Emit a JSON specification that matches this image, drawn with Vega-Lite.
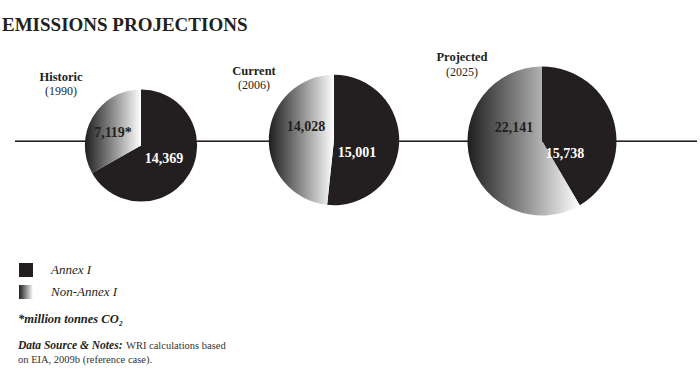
{
  "$schema": "https://vega.github.io/schema/vega-lite/v6.json",
  "width": 700,
  "height": 340,
  "autosize": {"type": "none"},
  "padding": {"left": 0, "top": 40, "right": 0, "bottom": 0},
  "background": "white",
  "title": {
    "text": "EMISSIONS PROJECTIONS",
    "anchor": "start",
    "frame": "group",
    "offset": -10,
    "baseline": "alphabetic",
    "dx": 2,
    "font": "Liberation Serif",
    "fontSize": 19,
    "fontWeight": "bold",
    "color": "#231f20"
  },
  "datasets": {
    "wedges": [
      {"period": "Historic", "year": 1990, "group": "Annex I", "value": 14369, "label": "14,369"},
      {"period": "Historic", "year": 1990, "group": "Non-Annex I", "value": 7119, "label": "7,119*"},
      {"period": "Current", "year": 2006, "group": "Annex I", "value": 15001, "label": "15,001"},
      {"period": "Current", "year": 2006, "group": "Non-Annex I", "value": 14028, "label": "14,028"},
      {"period": "Projected", "year": 2025, "group": "Annex I", "value": 15738, "label": "15,738"},
      {"period": "Projected", "year": 2025, "group": "Non-Annex I", "value": 22141, "label": "22,141"}
    ],
    "periods": [
      {"period": "Historic", "year": 1990, "yearLabel": "(1990)"},
      {"period": "Current", "year": 2006, "yearLabel": "(2006)"},
      {"period": "Projected", "year": 2025, "yearLabel": "(2025)"}
    ],
    "notes": [
      {"kind": "unit", "note": "*million tonnes CO₂"},
      {"kind": "sourceHead", "note": "Data Source & Notes:"},
      {"kind": "source1", "note": "WRI calculations based"},
      {"kind": "source2", "note": "on EIA, 2009b (reference case)."}
    ]
  },
  "layer": [
    {
      "data": {"name": "periods"},
      "mark": {"type": "rule", "color": "#231f20", "strokeWidth": 1.3},
      "encoding": {
        "x": {"value": 15},
        "x2": {"value": 697},
        "y": {"datum": 2025, "type": "quantitative", "scale": {"domain": [1990, 2006, 2025], "range": [105.5, 100, 101.3], "nice": false, "zero": false}, "axis": null}
      }
    },
    {
      "data": {"name": "wedges"},
      "transform": [
        {"joinaggregate": [{"op": "sum", "field": "value", "as": "total"}], "groupby": ["period"]},
        {"stack": "value", "groupby": ["period"], "sort": [{"field": "group", "order": "ascending"}], "offset": "normalize", "as": ["s0", "s1"]}
      ],
      "mark": {"type": "arc", "strokeWidth": 0},
      "encoding": {
        "x": {"field": "year", "type": "quantitative", "scale": {"domain": [1990, 2006, 2025], "range": [141, 334, 542], "nice": false, "zero": false}, "axis": null},
        "y": {"field": "year", "type": "quantitative", "scale": {"domain": [1990, 2006, 2025], "range": [105.5, 100, 101], "nice": false, "zero": false}, "axis": null},
        "theta": {"field": "s0", "type": "quantitative", "stack": null, "scale": {"domain": [0, 1], "range": [0, 6.283185307]}},
        "theta2": {"field": "s1"},
        "radius": {"field": "total", "type": "quantitative", "scale": {"type": "sqrt", "zero": true, "nice": false, "domain": [0, 37879], "range": [0, 74.5]}},
        "color": {
          "field": "group",
          "type": "nominal",
          "scale": {
            "domain": ["Annex I", "Non-Annex I"],
            "range": [
              "#231f20",
              {"expr": "{gradient: 'linear', x1: 0, y1: 0, x2: 1, y2: 0, stops: [{offset: 0, color: '#1e1e1e'}, {offset: 0.5, color: '#8c8c8c'}, {offset: 1, color: '#ffffff'}]}"}
            ]
          },
          "legend": {
            "orient": "none",
            "legendX": 19,
            "legendY": 223,
            "title": null,
            "padding": 0,
            "symbolType": "square",
            "symbolSize": 196,
            "symbolStrokeWidth": 0,
            "labelFont": "Liberation Serif",
            "labelFontStyle": "italic",
            "labelFontSize": 13,
            "labelColor": "#231f20",
            "labelOffset": 18,
            "rowPadding": 8
          }
        }
      }
    },
    {
      "data": {"name": "wedges"},
      "transform": [{"filter": "datum.group === 'Annex I'"}],
      "mark": {"type": "text", "dx": 23, "dy": 13, "align": "center", "baseline": "middle", "font": "Liberation Serif", "fontSize": 14, "fontWeight": "bold", "color": "#ffffff"},
      "encoding": {
        "x": {"field": "year", "type": "quantitative", "scale": {"domain": [1990, 2006, 2025], "range": [141, 334, 542], "nice": false, "zero": false}, "axis": null},
        "y": {"field": "year", "type": "quantitative", "scale": {"domain": [1990, 2006, 2025], "range": [105.5, 100, 101], "nice": false, "zero": false}, "axis": null},
        "text": {"field": "label"}
      }
    },
    {
      "data": {"name": "wedges"},
      "transform": [{"filter": "datum.group === 'Non-Annex I'"}],
      "mark": {"type": "text", "dx": -28, "dy": -13, "align": "center", "baseline": "middle", "font": "Liberation Serif", "fontSize": 14, "fontWeight": "bold", "color": "#231f20"},
      "encoding": {
        "x": {"field": "year", "type": "quantitative", "scale": {"domain": [1990, 2006, 2025], "range": [141, 334, 542], "nice": false, "zero": false}, "axis": null},
        "y": {"field": "year", "type": "quantitative", "scale": {"domain": [1990, 2006, 2025], "range": [105.5, 100, 101], "nice": false, "zero": false}, "axis": null},
        "text": {"field": "label"}
      }
    },
    {
      "data": {"name": "periods"},
      "mark": {"type": "text", "dx": -80, "align": "center", "baseline": "middle", "font": "Liberation Serif", "fontSize": 12.5, "fontWeight": "bold", "color": "#231f20"},
      "encoding": {
        "x": {"field": "year", "type": "quantitative", "scale": {"domain": [1990, 2006, 2025], "range": [141, 334, 542], "nice": false, "zero": false}, "axis": null},
        "y": {"field": "year", "type": "quantitative", "scale": {"domain": [1990, 2006, 2025], "range": [36.5, 30.5, 17], "nice": false, "zero": false}, "axis": null},
        "text": {"field": "period"}
      }
    },
    {
      "data": {"name": "periods"},
      "mark": {"type": "text", "dx": -80, "dy": 14.5, "align": "center", "baseline": "middle", "font": "Liberation Serif", "fontSize": 12, "color": "#231f20"},
      "encoding": {
        "x": {"field": "year", "type": "quantitative", "scale": {"domain": [1990, 2006, 2025], "range": [141, 334, 542], "nice": false, "zero": false}, "axis": null},
        "y": {"field": "year", "type": "quantitative", "scale": {"domain": [1990, 2006, 2025], "range": [36.5, 30.5, 17], "nice": false, "zero": false}, "axis": null},
        "text": {"field": "yearLabel"}
      }
    },
    {
      "data": {"name": "notes"},
      "transform": [{"filter": "datum.kind === 'unit'"}],
      "mark": {"type": "text", "x": 18, "y": 282.5, "align": "left", "baseline": "alphabetic", "font": "Liberation Serif", "fontSize": 12.5, "fontWeight": "bold", "fontStyle": "italic", "color": "#231f20"},
      "encoding": {"text": {"field": "note"}}
    },
    {
      "data": {"name": "notes"},
      "transform": [{"filter": "datum.kind === 'sourceHead'"}],
      "mark": {"type": "text", "x": 18, "y": 308.5, "align": "left", "baseline": "alphabetic", "font": "Liberation Serif", "fontSize": 11.5, "fontWeight": "bold", "fontStyle": "italic", "color": "#231f20"},
      "encoding": {"text": {"field": "note"}}
    },
    {
      "data": {"name": "notes"},
      "transform": [{"filter": "datum.kind === 'source1'"}],
      "mark": {"type": "text", "x": 126, "y": 308.5, "align": "left", "baseline": "alphabetic", "font": "Liberation Serif", "fontSize": 10.5, "color": "#333333"},
      "encoding": {"text": {"field": "note"}}
    },
    {
      "data": {"name": "notes"},
      "transform": [{"filter": "datum.kind === 'source2'"}],
      "mark": {"type": "text", "x": 18, "y": 323, "align": "left", "baseline": "alphabetic", "font": "Liberation Serif", "fontSize": 10.5, "color": "#333333"},
      "encoding": {"text": {"field": "note"}}
    }
  ],
  "resolve": {"scale": {"y": "independent"}},
  "config": {"view": {"stroke": null}}
}
